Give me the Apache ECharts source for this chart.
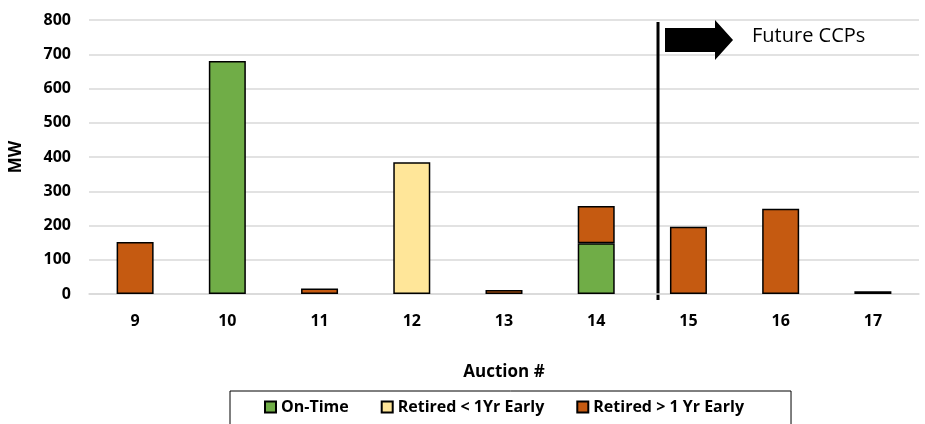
<!DOCTYPE html>
<html>
<head>
<meta charset="utf-8">
<script src="https://cdn.jsdelivr.net/npm/echarts@6/dist/echarts.min.js"></script>
<style>
  html, body { margin: 0; padding: 0; background: #fff; }
  #main { width: 925px; height: 424px; }
</style>
</head>
<body>
<div id="main"></div>
<script>
// data ('-' = no segment)
const auctions = ["9", "10", "11", "12", "13", "14", "15", "16", "17"];
const onTime = ["-", 680, "-", "-", "-", 148, "-", "-", "-"];
const retiredLess1 = ["-", "-", "-", 385, "-", "-", "-", "-", "-"];
const retiredMore1 = [152, "-", 16, "-", 12, 109, 196, 249, 8];
const yTicks = [0, 100, 200, 300, 400, 500, 600, 700, 800];

const font = "'Open Sans', Lato, sans-serif";
let myChart = echarts.init(document.getElementById("main"));

function bar(name, data, color) {
  return {
    name: name,
    type: "bar",
    stack: "total",
    barWidth: 37,
    data: data,
    itemStyle: { color: color, borderColor: "#000", borderWidth: 1.5 }
  };
}

myChart.setOption({
  animation: false,
  textStyle: { fontFamily: font },
  grid: { left: 88, right: 6, top: 20, bottom: 130 },
  legend: {
    top: 391,
    left: 230,
    padding: [8, 47, 12, 34],
    itemGap: 32,
    itemSpacing: 3,
    borderColor: "#000",
    borderWidth: 1,
    icon: "rect",
    itemWidth: 11,
    itemHeight: 11,
    textStyle: { fontSize: 16, fontWeight: "bold", color: "#000", fontFamily: font },
    data: ["On-Time", "Retired < 1Yr Early", "Retired > 1 Yr Early"]
  },
  xAxis: {
    type: "category",
    data: auctions,
    name: "Auction #",
    nameLocation: "middle",
    nameGap: 70,
    nameTextStyle: { fontSize: 17, fontWeight: "bold", color: "#000" },
    axisLine: { lineStyle: { color: "#d9d9d9", width: 1.5 } },
    axisTick: { show: false },
    axisLabel: { fontSize: 16, fontWeight: "bold", color: "#000", margin: 19 }
  },
  yAxis: {
    type: "value",
    min: yTicks[0],
    max: yTicks[yTicks.length - 1],
    interval: 100,
    name: "MW",
    nameLocation: "middle",
    nameGap: 64,
    nameTextStyle: { fontSize: 17, fontWeight: "bold", color: "#000" },
    axisLine: { show: false },
    axisTick: { show: false },
    axisLabel: { fontSize: 16, fontWeight: "bold", color: "#000", margin: 18 },
    splitLine: { lineStyle: { color: "#d9d9d9", width: 1.5 } }
  },
  series: [
    bar("On-Time", onTime, "#70ad47"),
    bar("Retired < 1Yr Early", retiredLess1, "#ffe699"),
    bar("Retired > 1 Yr Early", retiredMore1, "#c55a11")
  ]
});

// "future" divider + arrow annotation, placed between auctions 14 and 15
let x14 = myChart.convertToPixel({ xAxisIndex: 0 }, "14");
let x15 = myChart.convertToPixel({ xAxisIndex: 0 }, "15");
let lineX = x14 + (x15 - x14) * 0.67;
myChart.setOption({
  graphic: [
    {
      type: "line",
      shape: { x1: lineX, y1: 22, x2: lineX, y2: 300 },
      style: { stroke: "#000", lineWidth: 3 }
    },
    {
      type: "polygon",
      shape: {
        points: [
          [lineX + 7, 28], [lineX + 57, 28], [lineX + 57, 20],
          [lineX + 75, 40], [lineX + 57, 60], [lineX + 57, 52], [lineX + 7, 52]
        ]
      },
      style: { fill: "#000" }
    },
    {
      type: "text",
      left: lineX + 94,
      top: 26,
      style: { text: "Future CCPs", fontSize: 20, fill: "#000", fontFamily: font }
    }
  ]
});
</script>
</body>
</html>
